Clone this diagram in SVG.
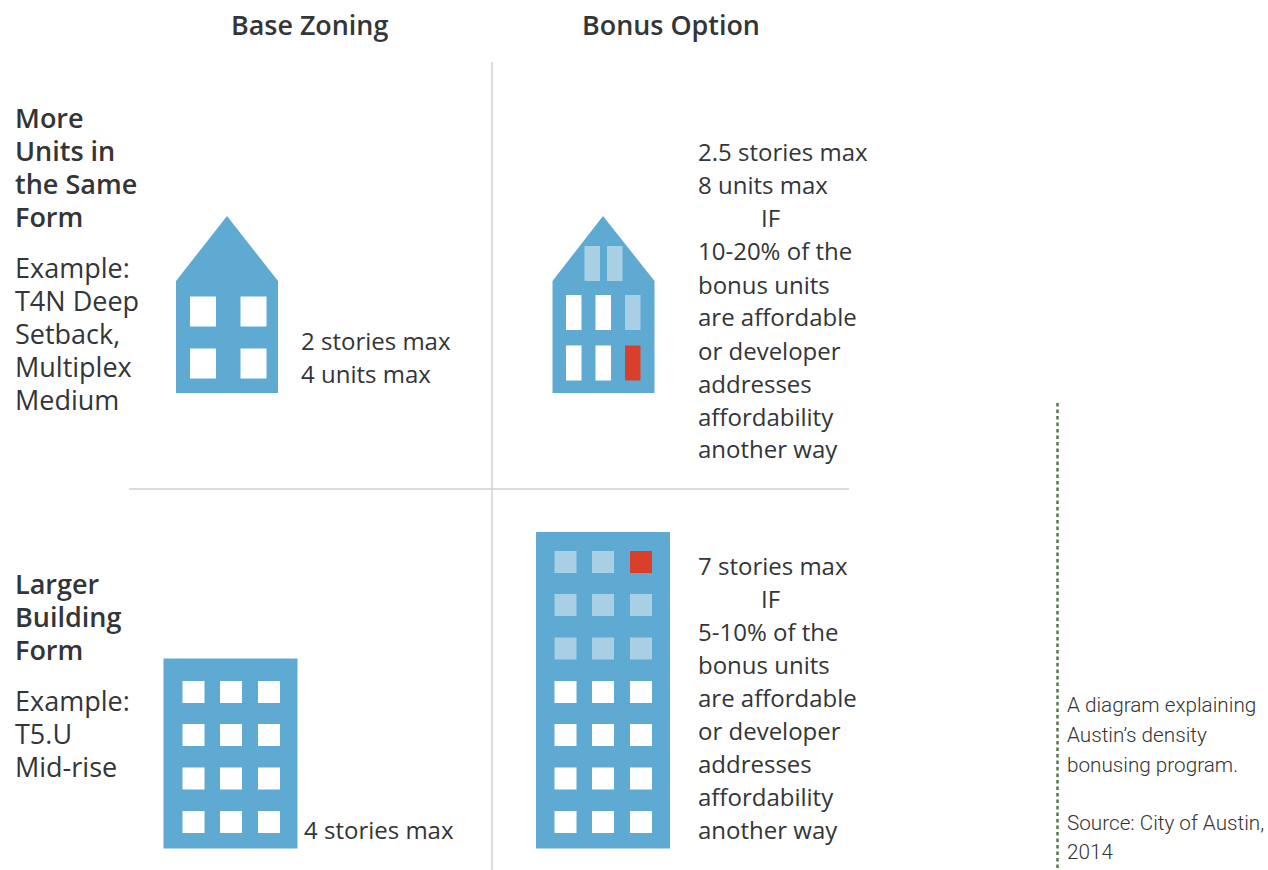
<svg xmlns="http://www.w3.org/2000/svg" width="1268" height="870" viewBox="0 0 1268 870">
<style>
text{font-family:"Open Sans","DejaVu Sans",sans-serif;fill:#333538;font-size:24px}
.h{font-weight:600;font-size:26.900px}
.b{font-weight:600;font-size:27px}
.e{font-size:27px}
.n{font-family:"Roboto","Liberation Sans",sans-serif;font-weight:300;font-size:20.700px;fill:#333}
.bld{fill:#5eaad3}
.w{fill:#fff}
.l{fill:#a9cfe5}
.r{fill:#d93f2b}
.rule{stroke:#cfd2d2;stroke-width:1.5;fill:none}
.dot{stroke:#55794a;stroke-width:2.500;stroke-dasharray:3.500 3;fill:none}
</style>
<rect width="1268" height="870" fill="#fff"/>
<g id="connectors">
<path class="rule" d="M492 62V870"/>
<path class="rule" d="M129 489H849"/>
<path class="dot" d="M1057.500 403V870"/>
</g>
<g id="headers">
<text class="h" x="231" y="35">Base Zoning</text>
<text class="h" x="582" y="35">Bonus Option</text>
</g>
<g id="row1-label">
<text class="b" x="15" y="128">More</text>
<text class="b" x="15" y="161">Units in</text>
<text class="b" x="15" y="194">the Same</text>
<text class="b" x="15" y="227">Form</text>
<text class="e" x="15" y="278">Example:</text>
<text class="e" x="15" y="311">T4N Deep</text>
<text class="e" x="15" y="344">Setback,</text>
<text class="e" x="15" y="377">Multiplex</text>
<text class="e" x="15" y="410">Medium</text>
</g>
<g id="row2-label">
<text class="b" x="15" y="594">Larger</text>
<text class="b" x="15" y="627">Building</text>
<text class="b" x="15" y="660">Form</text>
<text class="e" x="15" y="711">Example:</text>
<text class="e" x="15" y="744">T5.U</text>
<text class="e" x="15" y="777">Mid-rise</text>
</g>
<g id="house-base">
<path class="bld" d="M227 216L278 281V393H176V281Z"/>
<rect class="w" x="190" y="296.500" width="26" height="30"/>
<rect class="w" x="240.500" y="296.500" width="26" height="30"/>
<rect class="w" x="190" y="348.500" width="26" height="30"/>
<rect class="w" x="240.500" y="348.500" width="26" height="30"/>
</g>
<g id="house-base-text">
<text x="301" y="350">2 stories max</text>
<text x="301" y="383">4 units max</text>
</g>
<g id="house-bonus">
<path class="bld" d="M603 216L654.500 281V393H552.500V281Z"/>
<rect class="l" x="584.500" y="246" width="15.500" height="35"/>
<rect class="l" x="607" y="246" width="15.500" height="35"/>
<rect class="w" x="566" y="295" width="15.500" height="35"/>
<rect class="w" x="595.500" y="295" width="15.500" height="35"/>
<rect class="l" x="625" y="295" width="15.500" height="35"/>
<rect class="w" x="566" y="345.500" width="15.500" height="35"/>
<rect class="w" x="595.500" y="345.500" width="15.500" height="35"/>
<rect class="r" x="625" y="345.500" width="15.500" height="35"/>
</g>
<g id="house-bonus-text">
<text x="698" y="161">2.5 stories max</text>
<text x="698" y="194">8 units max</text>
<text x="761" y="227">IF</text>
<text x="698" y="260">10-20% of the</text>
<text x="698" y="294">bonus units</text>
<text x="698" y="326">are affordable</text>
<text x="698" y="360">or developer</text>
<text x="698" y="393">addresses</text>
<text x="698" y="426">affordability</text>
<text x="698" y="458">another way</text>
</g>
<g id="building-base">
<rect class="bld" x="163.500" y="658.500" width="134" height="190"/>
<rect class="w" x="182.500" y="681" width="22" height="22"/>
<rect class="w" x="220" y="681" width="22" height="22"/>
<rect class="w" x="258" y="681" width="22" height="22"/>
<rect class="w" x="182.500" y="724" width="22" height="22"/>
<rect class="w" x="220" y="724" width="22" height="22"/>
<rect class="w" x="258" y="724" width="22" height="22"/>
<rect class="w" x="182.500" y="767.500" width="22" height="22"/>
<rect class="w" x="220" y="767.500" width="22" height="22"/>
<rect class="w" x="258" y="767.500" width="22" height="22"/>
<rect class="w" x="182.500" y="811" width="22" height="22"/>
<rect class="w" x="220" y="811" width="22" height="22"/>
<rect class="w" x="258" y="811" width="22" height="22"/>
</g>
<g id="building-base-text">
<text x="304" y="839">4 stories max</text>
</g>
<g id="building-bonus">
<rect class="bld" x="536" y="532" width="134" height="316.500"/>
<rect class="l" x="554.500" y="551" width="22" height="22"/>
<rect class="l" x="592" y="551" width="22" height="22"/>
<rect class="r" x="630" y="551" width="22" height="22"/>
<rect class="l" x="554.500" y="594" width="22" height="22"/>
<rect class="l" x="592" y="594" width="22" height="22"/>
<rect class="l" x="630" y="594" width="22" height="22"/>
<rect class="l" x="554.500" y="637.500" width="22" height="22"/>
<rect class="l" x="592" y="637.500" width="22" height="22"/>
<rect class="l" x="630" y="637.500" width="22" height="22"/>
<rect class="w" x="554.500" y="681" width="22" height="22"/>
<rect class="w" x="592" y="681" width="22" height="22"/>
<rect class="w" x="630" y="681" width="22" height="22"/>
<rect class="w" x="554.500" y="724" width="22" height="22"/>
<rect class="w" x="592" y="724" width="22" height="22"/>
<rect class="w" x="630" y="724" width="22" height="22"/>
<rect class="w" x="554.500" y="767.500" width="22" height="22"/>
<rect class="w" x="592" y="767.500" width="22" height="22"/>
<rect class="w" x="630" y="767.500" width="22" height="22"/>
<rect class="w" x="554.500" y="811" width="22" height="22"/>
<rect class="w" x="592" y="811" width="22" height="22"/>
<rect class="w" x="630" y="811" width="22" height="22"/>
</g>
<g id="building-bonus-text">
<text x="698" y="574.500">7 stories max</text>
<text x="761" y="607.500">IF</text>
<text x="698" y="640.500">5-10% of the</text>
<text x="698" y="673.500">bonus units</text>
<text x="698" y="706.500">are affordable</text>
<text x="698" y="739.500">or developer</text>
<text x="698" y="772.500">addresses</text>
<text x="698" y="805.500">affordability</text>
<text x="698" y="838.500">another way</text>
</g>
<g id="note">
<text class="n" x="1067" y="712">A diagram explaining</text>
<text class="n" x="1067" y="742">Austin’s density</text>
<text class="n" x="1067" y="772">bonusing program.</text>
<text class="n" x="1067" y="830">Source: City of Austin,</text>
<text class="n" x="1067" y="859">2014</text>
</g>
</svg>
